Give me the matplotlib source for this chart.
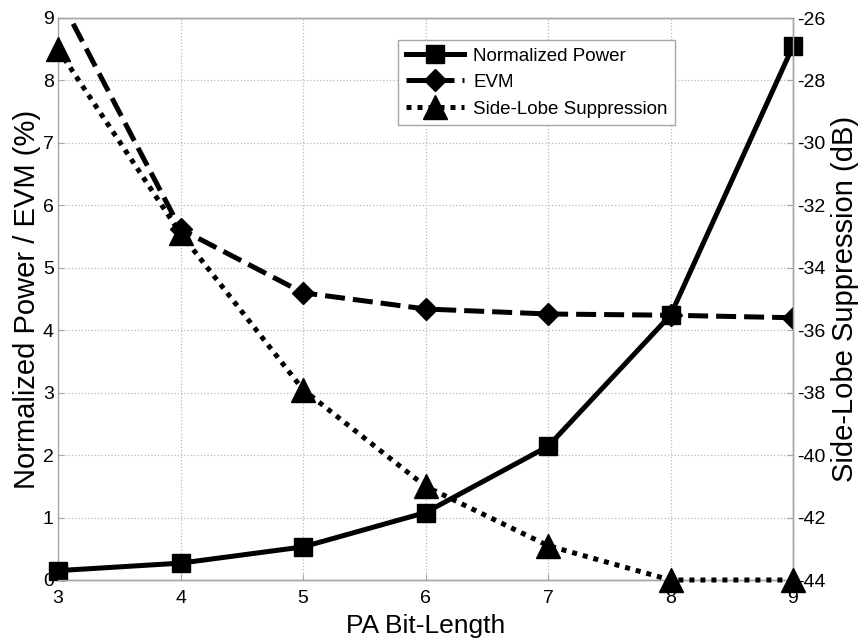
import matplotlib
matplotlib.use('Agg')
import matplotlib.pyplot as plt

# data
bit_length  = [3, 4, 5, 6, 7, 8, 9]
norm_power  = [0.15, 0.27, 0.53, 1.08, 2.14, 4.24, 8.55]
evm         = [9.37, 5.62, 4.60, 4.34, 4.26, 4.24, 4.20]
side_lobe   = [-27.0, -32.9, -37.9, -41.0, -42.9, -44.0, -44.0]

left_ticks  = list(range(0, 10))
right_ticks = list(range(-44, -25, 2))

plt.rcParams['font.family'] = ['Liberation Sans', 'DejaVu Sans']

GRAY = '#a6a6a6'

fig = plt.figure(figsize=(8.61, 6.41), dpi=100)
ax1 = fig.add_axes([58/861, 1-580/641, 735/861, 562/641])
ax2 = ax1.twinx()

lw = 3.6
h1, = ax1.plot(bit_length, norm_power, color='black', lw=lw, ls='-',
               marker='s', ms=13, clip_on=False, zorder=5,
               label='Normalized Power')
h2, = ax1.plot(bit_length, evm, color='black', lw=lw, ls=(0, (4, 1.6)),
               dash_capstyle='butt', marker='D', ms=11.5, zorder=4,
               label='EVM')
h3, = ax2.plot(bit_length, side_lobe, color='black', lw=lw, ls=(0, (1, 1.2)),
               dash_capstyle='butt', marker='^', ms=17, clip_on=False,
               zorder=5, label='Side-Lobe Suppression')

ax1.set_xlim(3, 9)
ax1.set_ylim(0, 9)
ax2.set_ylim(-44, -26)
ax1.set_xticks(bit_length)
ax1.set_yticks(left_ticks)
ax2.set_yticks(right_ticks)
ax2.set_yticklabels([str(v) for v in right_ticks])

ax1.grid(True, ls=':', color='#b8b8b8', lw=0.9)
for ax in (ax1, ax2):
    for s in ax.spines.values():
        s.set_color(GRAY)
        s.set_linewidth(1.0)
    ax.tick_params(direction='in', length=4, color=GRAY, labelsize=14, pad=3)
ax1.tick_params(axis='x', pad=7)
ax2.spines['left'].set_visible(False)

ax1.set_xlabel('PA Bit-Length', fontsize=19, labelpad=5)
ax1.set_ylabel('Normalized Power / EVM (%)', fontsize=21, labelpad=1)
ax2.set_ylabel('Side-Lobe Suppression (dB)', fontsize=21, labelpad=4)

leg = ax2.legend(handles=[h1, h2, h3], loc='upper left',
                 bbox_to_anchor=(0.4626, 0.961), borderaxespad=0,
                 fontsize=13.5, handlelength=3.1, handletextpad=0.5,
                 labelspacing=0.5, numpoints=1, fancybox=False,
                 framealpha=1, edgecolor=GRAY)
leg.get_frame().set_linewidth(1.0)

plt.savefig('out.png', dpi=100)
